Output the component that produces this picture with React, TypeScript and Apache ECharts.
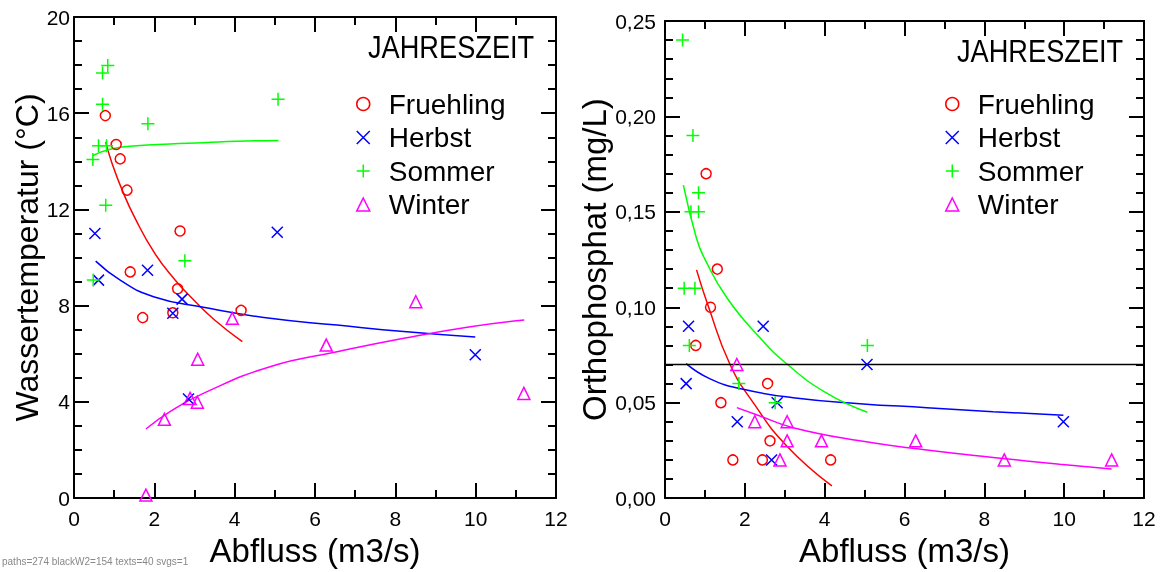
import React, { useEffect, useRef, useState } from "react";
import * as echarts from "echarts";

// ---------- DATA ----------
const seasons = ["Fruehling", "Herbst", "Sommer", "Winter"];
const seasonColors = ["#ff0000", "#0000ff", "#00ff00", "#ff00ff"];
const legendTitle = "JAHRESZEIT";
const xName = "Abfluss (m3/s)";
const yNameLeft = "Wassertemperatur (°C)";
const yNameRight = "Orthophosphat (mg/L)";

const frQL = [0.78, 1.05, 1.15, 1.32, 1.4, 1.71, 2.46, 2.58, 2.64, 4.16];
const frT = [15.9, 14.7, 14.1, 12.8, 9.4, 7.5, 7.7, 8.7, 11.1, 7.8];
const heQL = [0.52, 0.61, 1.83, 2.46, 2.69, 2.85, 5.06, 9.99];
const heT = [11.0, 9.06, 9.47, 7.68, 8.27, 4.12, 11.05, 5.96];
const soQL = [0.47, 0.48, 0.61, 0.71, 0.71, 0.79, 0.81, 0.84, 1.84, 2.76, 5.08];
const soT = [14.07, 9.06, 14.65, 17.67, 16.37, 12.17, 14.65, 17.98, 15.56, 9.87, 16.58];
const wiQL = [1.79, 2.25, 2.89, 3.07, 3.08, 3.94, 6.28, 8.51, 11.2];
const wiT = [0.12, 3.27, 4.14, 3.98, 5.77, 7.47, 6.36, 8.16, 4.35];

const frQR = [0.77, 1.03, 1.14, 1.31, 1.4, 1.7, 2.44, 2.57, 2.63, 4.15];
const frP = [0.08, 0.17, 0.1, 0.12, 0.05, 0.02, 0.02, 0.06, 0.03, 0.02];
const heQR = [0.53, 0.59, 1.81, 2.46, 2.67, 2.81, 5.06, 9.98];
const heP = [0.06, 0.09, 0.04, 0.09, 0.02, 0.05, 0.07, 0.04];
const soQR = [0.44, 0.48, 0.61, 0.65, 0.7, 0.75, 0.84, 0.84, 1.85, 2.76, 5.07];
const soP = [0.24, 0.11, 0.08, 0.15, 0.19, 0.11, 0.16, 0.15, 0.06, 0.05, 0.08];
const wiQR = [1.8, 2.25, 2.88, 3.06, 3.06, 3.92, 6.28, 8.5, 11.19];
const wiP = [0.07, 0.04, 0.02, 0.04, 0.03, 0.03, 0.03, 0.02, 0.02];

const fitFrL = [[0.79, 14.8], [0.95, 13.9], [1.2, 12.8], [1.5, 11.7], [2.0, 10.2], [2.5, 9.1], [3.0, 8.2], [3.5, 7.4], [4.19, 6.5]];
const fitHeL = [[0.54, 9.85], [1.15, 9.06], [1.98, 8.37], [3.22, 7.93], [4.88, 7.47], [6.55, 7.19], [8.21, 6.92], [9.99, 6.69]];
const fitSoL = [[0.46, 14.23], [0.9, 14.5], [1.56, 14.65], [2.39, 14.72], [3.22, 14.77], [4.05, 14.83], [5.09, 14.87]];
const fitWiL = [[1.79, 2.87], [2.39, 3.59], [3.22, 4.35], [4.88, 5.46], [6.55, 6.08], [8.21, 6.64], [9.87, 7.12], [11.21, 7.4]];

const fitFrR = [[0.79, 0.1196], [1.085, 0.1005], [1.63, 0.07], [2.21, 0.05], [3.05, 0.0273], [4.18, 0.0064]];
const fitHeR = [[0.53, 0.0705], [1.13, 0.0625], [1.96, 0.057], [3.21, 0.0526], [4.88, 0.0495], [6.56, 0.0474], [8.22, 0.0453], [9.98, 0.0434]];
const fitSoR = [[0.46, 0.164], [0.79, 0.136], [0.98, 0.126], [1.55, 0.105], [2.38, 0.084], [3.07, 0.07], [4.05, 0.055], [5.07, 0.045]];
const fitWiR = [[1.8, 0.0474], [2.38, 0.043], [3.21, 0.0369], [4.88, 0.03], [6.56, 0.0252], [8.22, 0.0213], [9.89, 0.0178], [11.19, 0.0152]];

const limitP = 0.07;

const xMin = 0;
const xMax = 12;
const yMaxL = 20;
const yMaxR = 0.25;

// ---------- STYLE ----------
const FONT = '"Liberation Sans", Arial, Helvetica, sans-serif';
const SYMBOLS = ["circle", "path://M0,0L1,1M1,0L0,1", "path://M0.5,0L0.5,1M0,0.5L1,0.5", "triangle"];
const SYMBOL_SIZES = [10, 11, 13, 12];
const CLEAR = "rgba(0,0,0,0)";

const zip = (xs: number[], ys: number[]) => xs.map((x, i) => [x, ys[i]]);

function axisPair(gridIndex: number, kind: "x" | "y", cfg: any) {
  const base = (position: string) => ({
    gridIndex,
    type: "value",
    position,
    min: cfg.min,
    max: cfg.max,
    interval: cfg.interval,
    splitLine: { show: false },
    axisLine: { show: true, onZero: false, lineStyle: { color: "#000000", width: 2 } },
    axisTick: { show: true, inside: true, length: 15, lineStyle: { color: "#000000", width: 2 } },
    minorTick: { show: true, splitNumber: cfg.minor, length: 8, lineStyle: { color: "#000000", width: 2 } },
  });
  const main: any = {
    ...base(kind === "x" ? "bottom" : "left"),
    axisLabel: { show: true, color: "#000", fontSize: 21, fontFamily: FONT, margin: cfg.labelMargin },
    name: cfg.name,
    nameLocation: "middle",
    nameGap: cfg.nameGap,
    nameTextStyle: { color: "#000", fontSize: cfg.nameSize, fontFamily: FONT },
  };
  if (cfg.formatter) main.axisLabel.formatter = cfg.formatter;
  const mirror = { ...base(kind === "x" ? "top" : "right"), axisLabel: { show: false } };
  return [main, mirror];
}

function scatterSeries(name: string, idx: number, data: number[][], axisIndex: number) {
  return {
    type: "scatter", name, xAxisIndex: axisIndex, yAxisIndex: axisIndex, data,
    symbol: SYMBOLS[idx], symbolSize: SYMBOL_SIZES[idx], silent: true,
    itemStyle: { color: CLEAR, borderColor: seasonColors[idx], borderWidth: 1.5, opacity: 1 }, z: 3,
  };
}

function lineSeries(name: string, color: string, data: number[][], axisIndex: number, smooth = true) {
  return {
    type: "line", name, xAxisIndex: axisIndex, yAxisIndex: axisIndex, data, smooth,
    showSymbol: false, symbol: "none", silent: true, lineStyle: { color, width: 1.5 }, z: 2,
  };
}

function legendAt(left: number, top: number) {
  return {
    orient: "vertical", left, top, itemWidth: 13, itemHeight: 13, itemGap: 5.5, selectedMode: false,
    data: seasons.map((s, i) => ({ name: s, icon: SYMBOLS[i], itemStyle: { color: CLEAR, borderColor: seasonColors[i], borderWidth: 1.5 } })),
    textStyle: { color: "#000", fontSize: 28, fontFamily: FONT, lineHeight: 27, padding: [0, 0, 0, 14] },
  };
}

export default function App() {
  const ref = useRef<HTMLDivElement>(null);
  const [dbg, setDbg] = useState("");
  useEffect(() => {
    if (!ref.current) return;
    const chart = echarts.init(ref.current, null, { renderer: "svg" });
    const fmtComma = (v: number) => v.toFixed(2).replace(".", ",");
    const xCfg = { min: xMin, max: xMax, interval: 2, minor: 2, labelMargin: 10, name: xName, nameGap: 33, nameSize: 33 };
    const option: any = {
      animation: false,
      grid: [
        { left: 74, top: 17, width: 482, height: 481 },
        { left: 665, top: 21, width: 479, height: 478 },
      ],
      xAxis: [...axisPair(0, "x", xCfg), ...axisPair(1, "x", xCfg)],
      yAxis: [
        ...axisPair(0, "y", { min: 0, max: yMaxL, interval: 4, minor: 4, labelMargin: 4, name: yNameLeft, nameGap: 30, nameSize: 32 }),
        ...axisPair(1, "y", { min: 0, max: yMaxR, interval: 0.05, minor: 5, labelMargin: 9, name: yNameRight, nameGap: 48, nameSize: 33, formatter: fmtComma }),
      ],
      legend: [legendAt(351, 85), legendAt(940, 85)],
      graphic: [
        { type: "text", x: 368, y: 47, scaleX: 0.85, style: { text: legendTitle, font: `32px ${FONT}`, fill: "#000", verticalAlign: "middle" } },
        { type: "text", x: 957, y: 51, scaleX: 0.85, style: { text: legendTitle, font: `32px ${FONT}`, fill: "#000", verticalAlign: "middle" } },
      ],
      series: [
        scatterSeries(seasons[0], 0, zip(frQL, frT), 0),
        scatterSeries(seasons[1], 1, zip(heQL, heT), 0),
        scatterSeries(seasons[2], 2, zip(soQL, soT), 0),
        scatterSeries(seasons[3], 3, zip(wiQL, wiT), 0),
        lineSeries("fit Fruehling T", seasonColors[0], fitFrL, 0),
        lineSeries("fit Herbst T", seasonColors[1], fitHeL, 0),
        lineSeries("fit Sommer T", seasonColors[2], fitSoL, 0),
        lineSeries("fit Winter T", seasonColors[3], fitWiL, 0),
        scatterSeries(seasons[0], 0, zip(frQR, frP), 2),
        scatterSeries(seasons[1], 1, zip(heQR, heP), 2),
        scatterSeries(seasons[2], 2, zip(soQR, soP), 2),
        scatterSeries(seasons[3], 3, zip(wiQR, wiP), 2),
        lineSeries("fit Fruehling P", seasonColors[0], fitFrR, 2),
        lineSeries("fit Herbst P", seasonColors[1], fitHeR, 2),
        lineSeries("fit Sommer P", seasonColors[2], fitSoR, 2),
        lineSeries("fit Winter P", seasonColors[3], fitWiR, 2),
        lineSeries("Grenzwert", "#000", [[xMin, limitP], [xMax, limitP]], 2, false),
      ],
    };
    let msg = "";
    try {
      chart.setOption(option);
    } catch (e: any) {
      msg += "ERR:" + String(e && e.message);
    }
    const svg = ref.current.querySelector("svg");
    if (svg) {
      const paths = svg.querySelectorAll("path");
      let blackW2 = 0;
      paths.forEach((p) => {
        const s = p.getAttribute("stroke") || "";
        const w = p.getAttribute("stroke-width") || "";
        if ((s === "#000" || s === "#000000" || s === "rgb(0,0,0)") && w === "2") blackW2++;
      });
      msg += ` paths=${paths.length} blackW2=${blackW2} texts=${svg.querySelectorAll("text").length} svgs=${document.querySelectorAll("svg").length}`;
    } else msg += " nosvg";
    setDbg(msg);
    return () => chart.dispose();
  }, []);
  return (
    <>
      <div ref={ref} style={{ position: "fixed", left: 0, top: 0, width: 1162, height: 572 }} />
      <div style={{ position: "fixed", left: 2, top: 556, fontSize: 10, fontFamily: "sans-serif", color: "#888" }}>{dbg}</div>
    </>
  );
}
